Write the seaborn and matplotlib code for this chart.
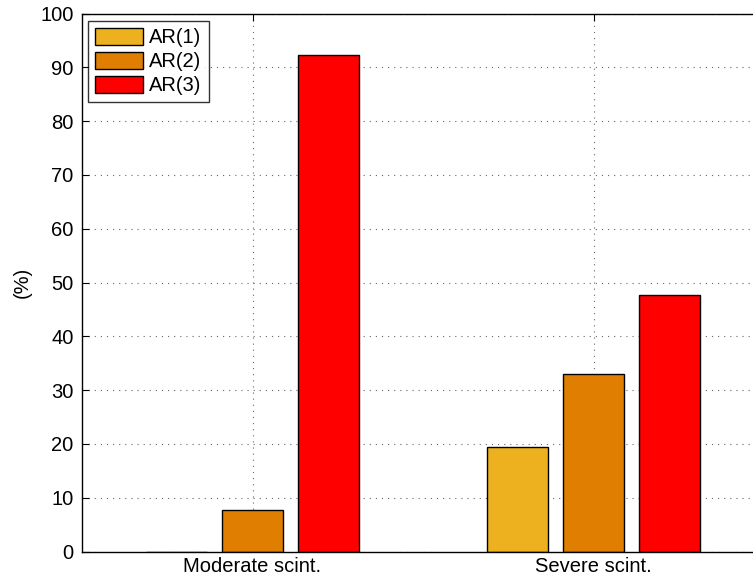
import matplotlib
matplotlib.use("Agg")
import matplotlib.pyplot as plt
import pandas as pd
import seaborn as sns

# Percentage of cases per scintillation scenario for each AR model order
scenarios = ["Moderate scint.", "Severe scint."]
models = ["AR(1)", "AR(2)", "AR(3)"]
ar1_values = [0.0, 19.5]
ar2_values = [7.7, 32.9]
ar3_values = [92.3, 47.6]
y_ticks = list(range(0, 101, 10))
model_colors = ["#EDB120", "#DF7E00", "#FF0000"]

rows = []
for model, vals in zip(models, [ar1_values, ar2_values, ar3_values]):
    for scen, v in zip(scenarios, vals):
        rows.append({"scenario": scen, "model": model, "value": v})
df = pd.DataFrame(rows)

sns.set_style("white")
plt.rcParams["font.family"] = ["Liberation Sans", "DejaVu Sans"]
plt.rcParams["text.color"] = "black"
plt.rcParams["axes.labelcolor"] = "black"
FS = 14.5

W, H = 753, 583
fig = plt.figure(figsize=(W / 100, H / 100), dpi=100)
# axes box: left spine at x=82 px, spans 682 px (right edge runs past the canvas)
ax = fig.add_axes([82 / W, (H - 551.5) / H, 682 / W, 538 / H])

sns.barplot(
    data=df, x="scenario", y="value", hue="model",
    order=scenarios, hue_order=models, palette=model_colors,
    width=2 / 3, gap=0.2, saturation=1,
    edgecolor="black", linewidth=1.0, errorbar=None, ax=ax,
)

ax.set_xlim(-0.5, 1.5)
ax.set_ylim(0, 100)
ax.set_yticks(y_ticks)
ax.set_xlabel("")
ax.set_ylabel("(%)", fontsize=FS, labelpad=6)

ax.set_axisbelow(True)
ax.grid(True, color="#666666", linestyle=(0, (1, 4.5)), linewidth=0.8)

for side in ["left", "bottom", "top", "right"]:
    ax.spines[side].set_visible(True)
    ax.spines[side].set_color("black")
    ax.spines[side].set_linewidth(1.0)

ax.tick_params(axis="both", direction="in", length=5, width=0.8,
               colors="black", labelsize=FS,
               top=True, right=True, bottom=True, left=True)
ax.tick_params(axis="y", pad=6)
ax.tick_params(axis="x", pad=4)

handles, labels = ax.get_legend_handles_labels()
leg = ax.legend(
    handles, labels, loc="upper left",
    bbox_to_anchor=(6 / 682, 1 - 7 / 538), borderaxespad=0,
    fontsize=FS, handlelength=2.4, handleheight=0.95,
    labelspacing=0.22, handletextpad=0.3, borderpad=0.35,
    fancybox=False, frameon=True, edgecolor="black",
)
leg.get_frame().set_linewidth(1.0)
for t in leg.get_texts():
    t.set_color("black")

fig.savefig("out.png", dpi=100, facecolor="white")
